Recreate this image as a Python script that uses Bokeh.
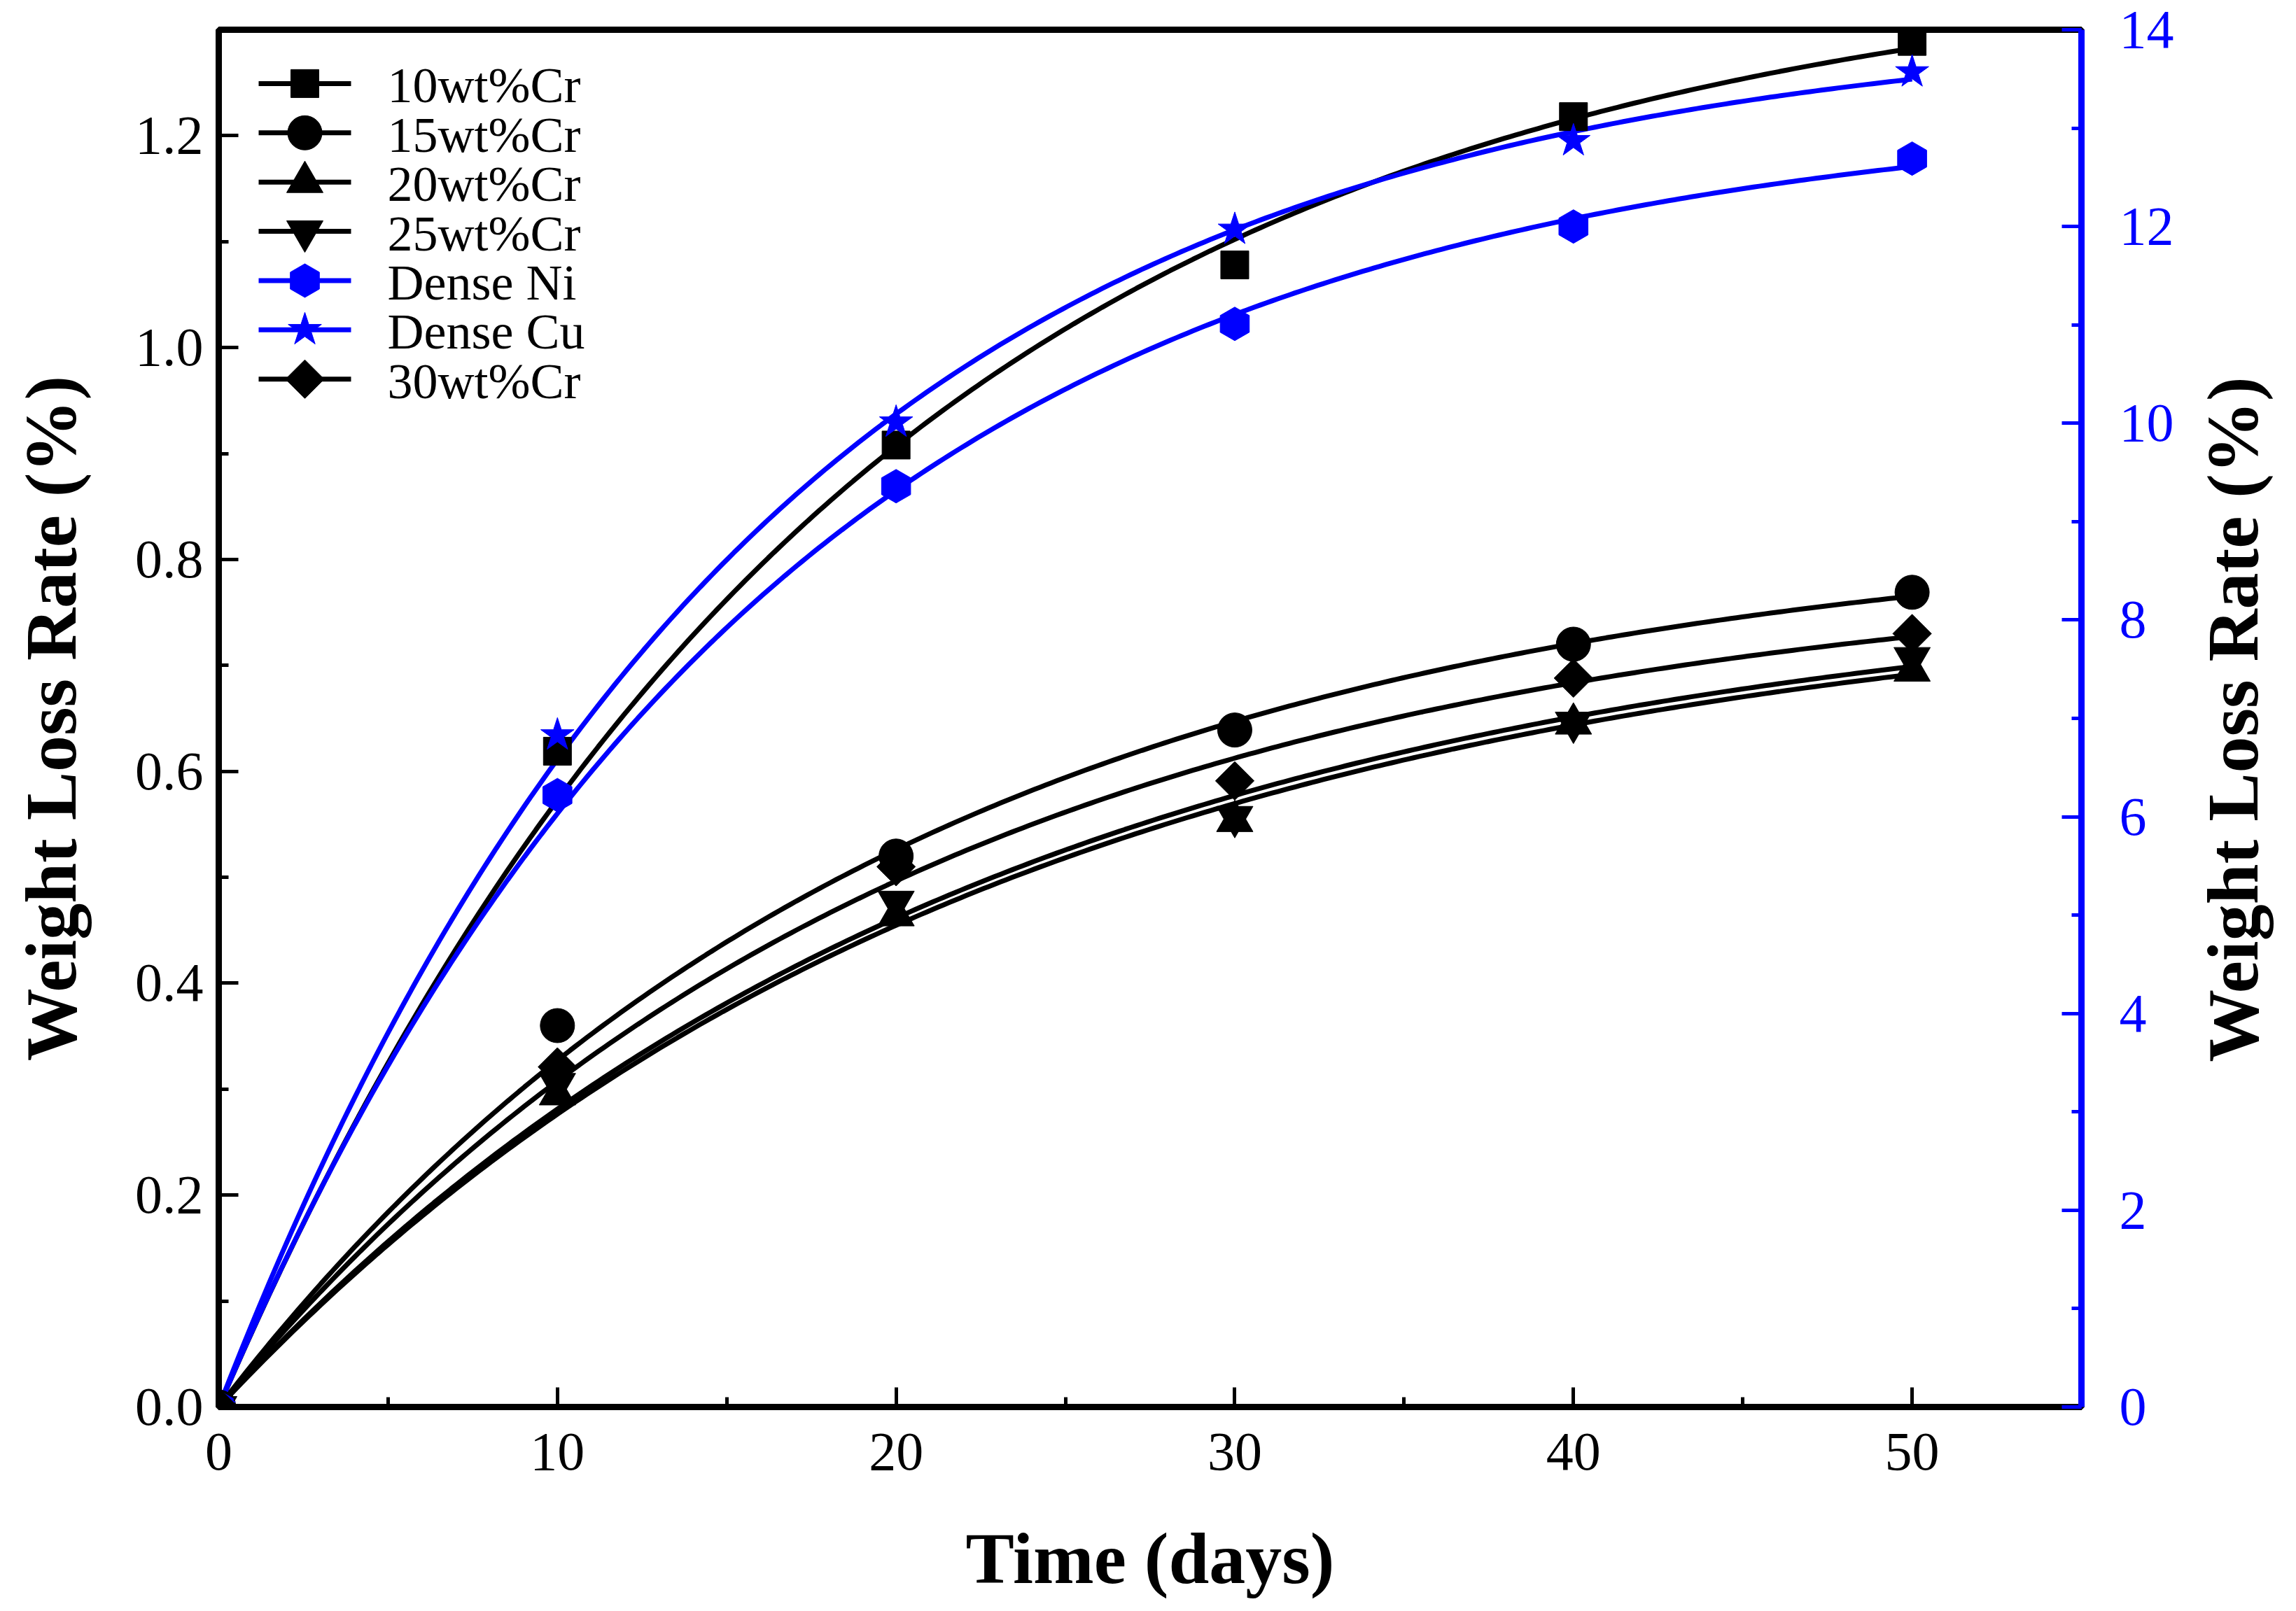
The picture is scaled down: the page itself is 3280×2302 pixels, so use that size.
import numpy as np
from bokeh.plotting import figure
from bokeh.models import (Range1d, LinearAxis, SingleIntervalTicker,
                          PrintfTickFormatter, ColumnDataSource, Label)
from bokeh.core.properties import value
from bokeh.embed import file_html
from bokeh.resources import INLINE

# ---------------- data ----------------
days = [0, 10, 20, 30, 40, 50]
cr10 = [0, 0.619, 0.908, 1.078, 1.218, 1.289]
cr15 = [0, 0.360, 0.520, 0.639, 0.720, 0.769]
cr20 = [0, 0.295, 0.464, 0.553, 0.645, 0.695]
cr25 = [0, 0.305, 0.477, 0.557, 0.646, 0.707]
cr30 = [0, 0.321, 0.510, 0.591, 0.688, 0.730]
dense_ni = [0, 6.22, 9.36, 11.01, 12.00, 12.69]   # right axis
dense_cu = [0, 6.83, 10.01, 11.97, 12.87, 13.57]  # right axis

series_names = ["10wt%Cr", "15wt%Cr", "20wt%Cr", "25wt%Cr",
                "Dense Ni", "Dense Cu", "30wt%Cr"]

x_ticks_interval = 10
left_ticks_interval = 0.2
right_ticks_interval = 2

BLUE = "#0000FF"
BLACK = "#000000"
SERIF = "Liberation Serif"


def exp_fit(x, y):
    """Weighted least-squares fit of y = A*(1-exp(-x/t)) through the origin."""
    x = np.asarray(x, float)
    y = np.asarray(y, float)
    w = x.copy()
    best = None
    for t in np.linspace(3, 200, 4000):
        f = 1.0 - np.exp(-x / t)
        a = float((w * f) @ y) / float((w * f) @ f)
        err = float((w * (a * f - y) ** 2).sum())
        if best is None or err < best[0]:
            best = (err, a, t)
    return best[1], best[2]


xs = np.linspace(0, 50, 300)

BL, BR, BT, BB = 312, 291, 42, 273
W, H = 3264, 2286
FW, FH = W - BL - BR, H - BT - BB

p = figure(width=W, height=H, x_range=Range1d(0, 55), y_range=Range1d(0, 1.3),
           output_backend="svg", toolbar_location=None,
           min_border_left=BL, min_border_right=BR, min_border_top=BT,
           min_border_bottom=BB)
p.extra_y_ranges = {"right": Range1d(0, 14), "lpy": Range1d(FH, 0)}
p.extra_x_ranges = {"lpx": Range1d(0, FW)}
p.xgrid.visible = False
p.ygrid.visible = False
p.outline_line_color = BLACK
p.outline_line_width = 9
p.background_fill_color = "white"
p.border_fill_color = "white"

# values, colour, marker, size, angle, range
styles = [
    (cr10, BLACK, "square", 40, 0.0, "default"),
    (cr15, BLACK, "circle", 49, 0.0, "default"),
    (cr20, BLACK, "triangle", 52, 0.0, "default"),
    (cr25, BLACK, "inverted_triangle", 52, 0.0, "default"),
    (dense_ni, BLUE, "hex", 48, np.pi / 2, "right"),
    (dense_cu, BLUE, "star", 50, 0.0, "right"),
    (cr30, BLACK, "square", 39, np.pi / 4, "default"),
]

for vals, col, mk, sz, ang, rng in styles:
    a, t = exp_fit(days, vals)
    ys = a * (1.0 - np.exp(-xs / t))
    p.line(xs, ys, line_color=col, line_width=7, y_range_name=rng)
for vals, col, mk, sz, ang, rng in styles:
    p.scatter(days, vals, marker=mk, size=sz, angle=ang, fill_color=col,
              line_color=col, line_width=1, y_range_name=rng)

# ---------------- legend (drawn in frame pixel space) ----------------
n = len(series_names)
row0, pitch = 77, 70.5
gx0, gx1, tx = 57, 189, 241
rows = [row0 + pitch * i for i in range(n)]
lsrc = ColumnDataSource(dict(
    x0=[gx0] * n, x1=[gx1] * n, xm=[(gx0 + gx1) / 2] * n, y=rows,
    ty=[r + 3 for r in rows], tx=[tx] * n,
    col=[s[1] for s in styles], mk=[s[2] for s in styles],
    sz=[s[3] for s in styles], ang=[s[4] for s in styles],
    name=series_names))
p.segment(x0="x0", y0="y", x1="x1", y1="y", source=lsrc, line_color="col",
          line_width=7, x_range_name="lpx", y_range_name="lpy")
p.scatter(x="xm", y="y", marker="mk", size="sz", angle="ang", source=lsrc,
          fill_color="col", line_color="col", line_width=1,
          x_range_name="lpx", y_range_name="lpy")
p.text(x="tx", y="ty", text="name", source=lsrc, text_font=value(SERIF),
       text_font_size="72px", text_color=BLACK, text_baseline="middle",
       text_align="left", x_range_name="lpx", y_range_name="lpy")

# ---------------- axes ----------------
xa = p.xaxis[0]
xa.ticker = SingleIntervalTicker(interval=x_ticks_interval, num_minor_ticks=2)
xa.axis_label = "Time (days)"
ya = p.yaxis[0]
ya.ticker = SingleIntervalTicker(interval=left_ticks_interval, num_minor_ticks=2)
ya.formatter = PrintfTickFormatter(format="%.1f")
ya.axis_label = "Weight Loss Rate (%)"

ra = LinearAxis(y_range_name="right",
                ticker=SingleIntervalTicker(interval=right_ticks_interval, num_minor_ticks=2))
p.add_layout(ra, "right")

for ax in (xa, ya, ra):
    ax.axis_line_width = 8
    ax.major_tick_in = 28
    ax.major_tick_out = 0
    ax.minor_tick_in = 14
    ax.minor_tick_out = 0
    ax.major_tick_line_width = 5
    ax.minor_tick_line_width = 5
    ax.major_label_text_font = SERIF
    ax.major_label_text_font_size = "78px"
    ax.axis_label_text_font = SERIF
    ax.axis_label_text_font_size = "104px"
    ax.axis_label_text_font_style = "bold"
    ax.axis_label_text_color = BLACK

xa.major_label_standoff = 38
xa.axis_label_standoff = 66
ya.major_label_standoff = 22
ya.axis_label_standoff = 60
ra.major_label_standoff = 54

for ax in (xa, ya):
    ax.axis_line_color = BLACK
    ax.major_tick_line_color = BLACK
    ax.minor_tick_line_color = BLACK
    ax.major_label_text_color = BLACK
ra.axis_line_color = BLUE
ra.axis_line_width = 9
ra.major_tick_line_color = BLUE
ra.minor_tick_line_color = BLUE
ra.major_label_text_color = BLUE

# right-hand axis title, reading bottom-to-top like the reference
right_title = Label(text="Weight Loss Rate (%)", x=BL + FW + 216, y=BT + FH / 2,
                    x_units="canvas", y_units="canvas", angle=np.pi / 2,
                    text_align="center", text_baseline="middle",
                    text_font=SERIF, text_font_size="104px",
                    text_font_style="bold", text_color=BLACK)
p.add_layout(right_title, "right")

open("out.html", "w").write(file_html(p, INLINE))
